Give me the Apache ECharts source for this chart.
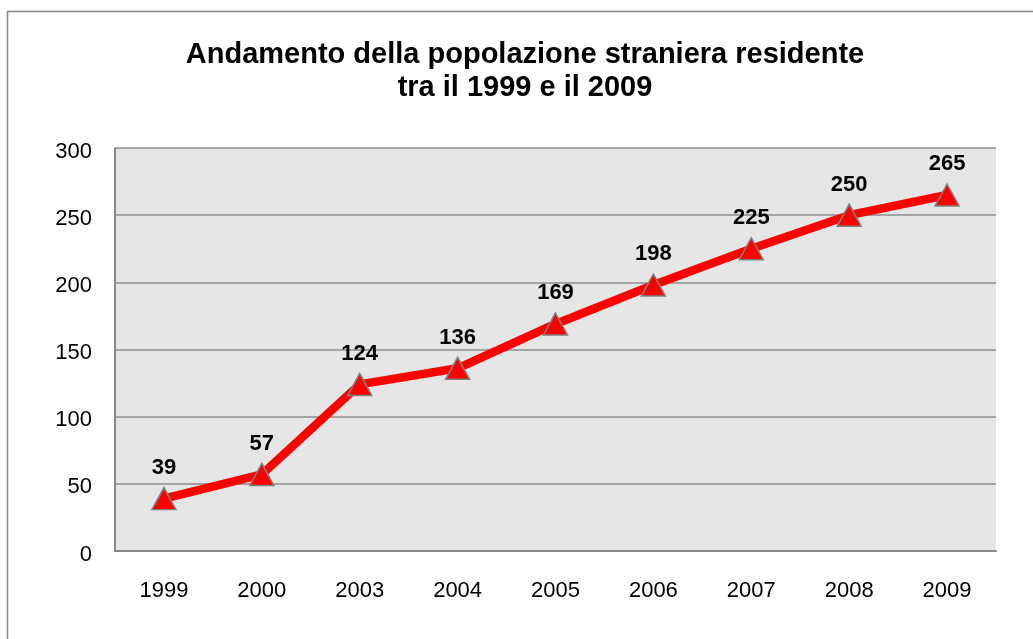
<!DOCTYPE html>
<html>
<head>
<meta charset="utf-8">
<script src="https://cdn.jsdelivr.net/npm/echarts@6/dist/echarts.min.js"></script>
<style>
html,body{margin:0;padding:0;background:#fff;}
#c{width:1033px;height:639px;}
</style>
</head>
<body>
<div id="c"></div>
<script>
const titleText = 'Andamento della popolazione straniera residente\ntra il 1999 e il 2009';
const categories = ['1999','2000','2003','2004','2005','2006','2007','2008','2009'];
const values = [39, 57, 124, 136, 169, 198, 225, 250, 265];

const chart = echarts.init(document.getElementById('c'));
chart.setOption({
  animation: false,
  backgroundColor: '#ffffff',
  textStyle: { fontFamily: 'Liberation Sans, Arial, sans-serif' },
  graphic: [{
    type: 'rect',
    shape: { x: 7.5, y: 11.5, width: 1100, height: 700 },
    style: { fill: 'none', stroke: '#888888', lineWidth: 1.5 },
    silent: true,
    z: -10
  }],
  title: {
    text: titleText,
    left: 520,
    textAlign: 'center',
    top: 33,
    textStyle: { fontSize: 29, fontWeight: 'bold', color: '#000', lineHeight: 33, fontFamily: 'Liberation Sans, Arial, sans-serif' }
  },
  grid: {
    left: 115, right: 37, top: 148, bottom: 88,
    show: true,
    backgroundColor: '#e6e6e6',
    borderWidth: 0
  },
  xAxis: {
    type: 'category',
    data: categories,
    boundaryGap: true,
    axisLine: { show: true, lineStyle: { color: '#888888', width: 2 } },
    axisTick: { show: false },
    axisLabel: { color: '#000', fontSize: 22, margin: 29 },
    splitLine: { show: false }
  },
  yAxis: {
    type: 'value',
    min: 0, max: 300, interval: 50,
    axisLine: { show: true, lineStyle: { color: '#888888', width: 2 } },
    axisTick: { show: false },
    axisLabel: {
      color: '#000', fontSize: 22, margin: 23,
      formatter: '{v|{value}}',
      rich: { v: { fontSize: 22, color: '#000', padding: [7, 0, 0, 0] } }
    },
    splitLine: { show: true, lineStyle: { color: '#8c8c8c', width: 1.5 } }
  },
  series: [{
    type: 'line',
    data: values,
    lineStyle: { color: '#ff0000', width: 8.5 },
    symbol: 'triangle',
    symbolSize: [24, 22],
    itemStyle: { color: '#ff0000', borderColor: '#808080', borderWidth: 1.5 },
    label: {
      show: true,
      position: 'top',
      distance: 8,
      color: '#000',
      fontSize: 22,
      fontWeight: 'bold'
    }
  }]
});
</script>
</body>
</html>
